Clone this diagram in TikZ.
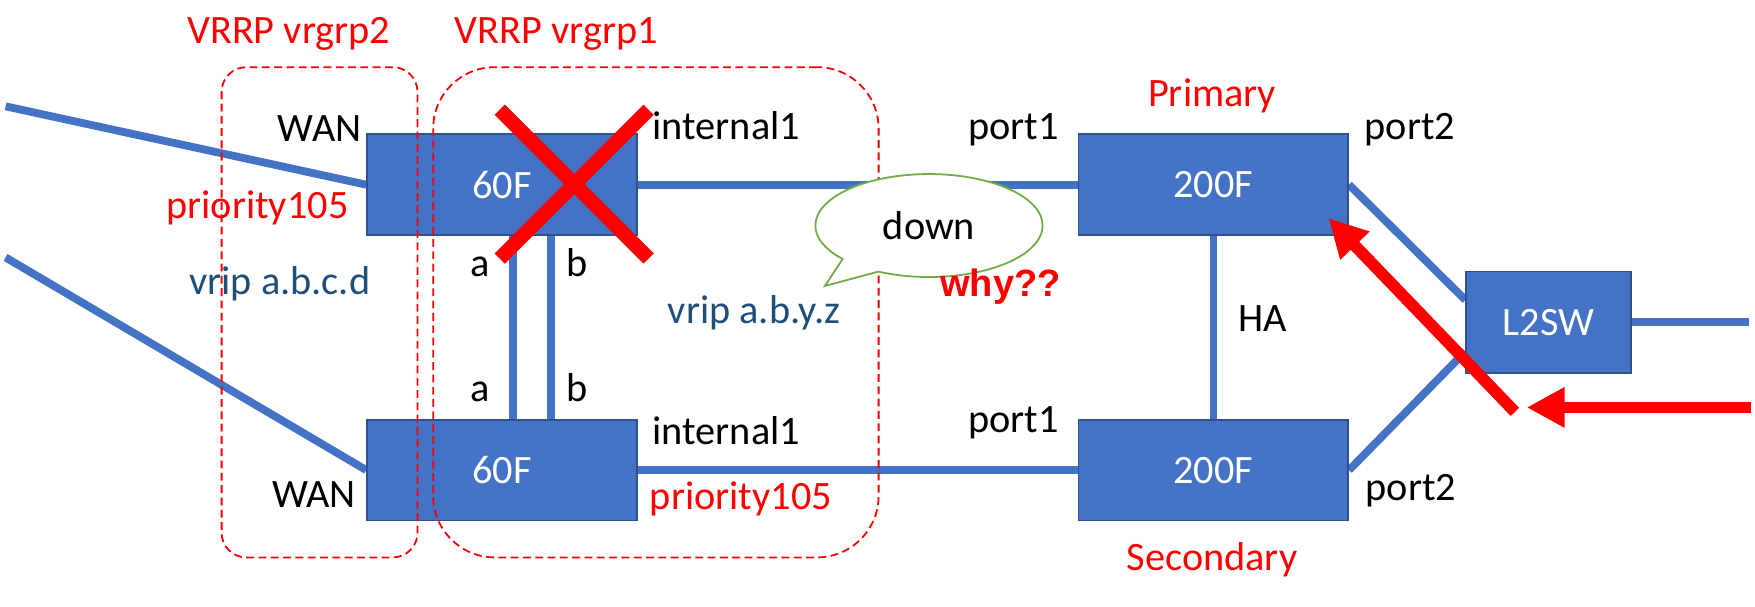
\documentclass[tikz,border=0pt]{standalone}
\usepackage{fontspec}
\setmainfont{Carlito}
\newfontfamily\nwBoldFont{Liberation Sans}
\usepackage{tikz}
\usetikzlibrary{
    arrows.meta,
    backgrounds,
    shapes.misc,
    shapes.callouts
}
\definecolor{nwBlue}{HTML}{4472C4}
\definecolor{nwEdge}{HTML}{2F528F}
\definecolor{nwRed}{HTML}{FF0000}
\definecolor{nwNavy}{HTML}{1F4E79}
\definecolor{nwGreen}{HTML}{70AD47}
\tikzset{
    nwDevice/.style={
        draw=nwEdge,
        fill=nwBlue,
        text=white,
        minimum width=241pt,
        minimum height=90pt,
        inner sep=0pt,
        line width=1.6pt
    },
    nwLink/.style={draw=nwBlue,line width=7pt},
    nwGroup/.style={
        draw=nwRed,
        dash pattern=on 7pt off 4pt,
        line width=1.6pt,
        minimum height=438pt,
        inner sep=0pt
    },
    nwPort/.style={text=black,inner sep=0pt},
    nwNote/.style={text=nwRed,inner sep=0pt},
    nwVip/.style={text=nwNavy,inner sep=0pt},
    nwFail/.style={
        cross out,
        draw=nwRed,
        line width=13pt,
        minimum width=120pt,
        minimum height=120pt,
        inner sep=0pt
    },
    nwAlarm/.style={-{Triangle[length=34pt,width=34pt]},draw=nwRed,line width=10.5pt},
    nwBubble/.style={
        ellipse callout,
        draw=nwGreen,
        fill=white,
        line width=1.6pt,
        minimum width=203pt,
        minimum height=92pt,
        inner sep=0pt,
        callout pointer arc=23
    }
}

\begin{document}
\begin{tikzpicture}[x=1pt,y=-1pt,font=\fontsize{36}{43}\selectfont]
    \useasboundingbox (0,0) rectangle (1568,542);

    % devices
    \node[nwDevice] (fw1) at (448.5,165) {60F};
    \node[nwDevice] (fw2) at (448.5,420) {60F};
    \node[nwDevice] (pri) at (1084,165) {200F};
    \node[nwDevice] (sec) at (1084,420) {200F};
    \node[nwDevice,minimum width=147pt,minimum height=91pt] (sw) at (1383.5,288) {L2SW};

    \coordinate (wan1) at (5,95);
    \coordinate (wan2) at (5,230);
    \coordinate (swOut) at (1563,288);

    \begin{scope}[on background layer]
        \draw[nwLink] (wan1) -- (fw1.west);
        \draw[nwLink] (wan2) -- (fw2.west);
        \draw[nwLink] (fw1.east) -- (pri.west);
        \draw[nwLink] (fw2.east) -- (sec.west);
        \draw[nwLink] ([xshift=9.5pt]fw1.south) -- ([xshift=9.5pt]fw2.north);
        \draw[nwLink] ([xshift=43.5pt]fw1.south) -- ([xshift=43.5pt]fw2.north);
        \draw[nwLink,line width=6pt] (pri.south) -- (sec.north);
        \draw[nwLink] (pri.east) -- ([yshift=20pt]sw.west);
        \draw[nwLink] (sec.east) -- ([yshift=-26pt]sw.west);
        \draw[nwLink] (sw.east) -- (swOut);
    \end{scope}

    % VRRP groups
    \node[nwGroup,minimum width=175pt,rounded corners=22pt] (grp2) at (285.5,279) {};
    \node[nwGroup,minimum width=398pt,rounded corners=55pt] (grp1) at (586,279) {};
    \node[nwNote,anchor=base] (grp2t) at (258,39) {VRRP vrgrp2};
    \node[nwNote,anchor=base] (grp1t) at (497,39) {VRRP vrgrp1};

    \node[nwFail] (fail) at (513,164.5) {};

    % port labels
    \node[nwPort,anchor=base east] (wan1l) at (323,126) {WAN};
    \node[nwPort,anchor=base east] (wan2l) at (318,453) {WAN};
    \node[nwPort,anchor=base west] (in1l) at (583,125) {internal1};
    \node[nwPort,anchor=base west] (in2l) at (583,397) {internal1};
    \node[nwPort,anchor=base] (a1l) at (429,247) {a};
    \node[nwPort,anchor=base] (b1l) at (516,247) {b};
    \node[nwPort,anchor=base] (a2l) at (429,359) {a};
    \node[nwPort,anchor=base] (b2l) at (516,359) {b};
    \node[nwPort,anchor=base east] (p1tl) at (946,125) {port1};
    \node[nwPort,anchor=base east] (p1bl) at (946,386) {port1};
    \node[nwPort,anchor=base west] (p2tl) at (1219,125) {port2};
    \node[nwPort,anchor=base west] (p2bl) at (1220,447) {port2};
    \node[nwPort,anchor=base west] (hal) at (1106,296) {HA};

    \node[nwNote,anchor=base] (prio1) at (230,195) {priority105};
    \node[nwNote,anchor=base] (prio2) at (662,455) {priority105};
    \node[nwNote,anchor=base] (pril) at (1083,95) {Primary};
    \node[nwNote,anchor=base] (secl) at (1083,510) {Secondary};
    \node[nwVip,anchor=base] (vip2) at (250,263) {vrip a.b.c.d};
    \node[nwVip,anchor=base] (vip1) at (674,289) {vrip a.b.y.z};

    % link down
    \node[nwBubble,callout absolute pointer={(737,255.5)}] (down) at (830,201.5) {down};
    \node[nwNote,anchor=base,font=\nwBoldFont\fontsize{34}{40}\selectfont\bfseries] (why) at (894,265) {why??};

    \coordinate (hitTail) at (1353.5,368);
    \coordinate (hitTip) at (1187,195);
    \coordinate (inTail) at (1564,364);
    \coordinate (inTip) at (1364,364);
    \draw[nwAlarm] (hitTail) -- (hitTip);
    \draw[nwAlarm] (inTail) -- (inTip);
\end{tikzpicture}
\end{document}
